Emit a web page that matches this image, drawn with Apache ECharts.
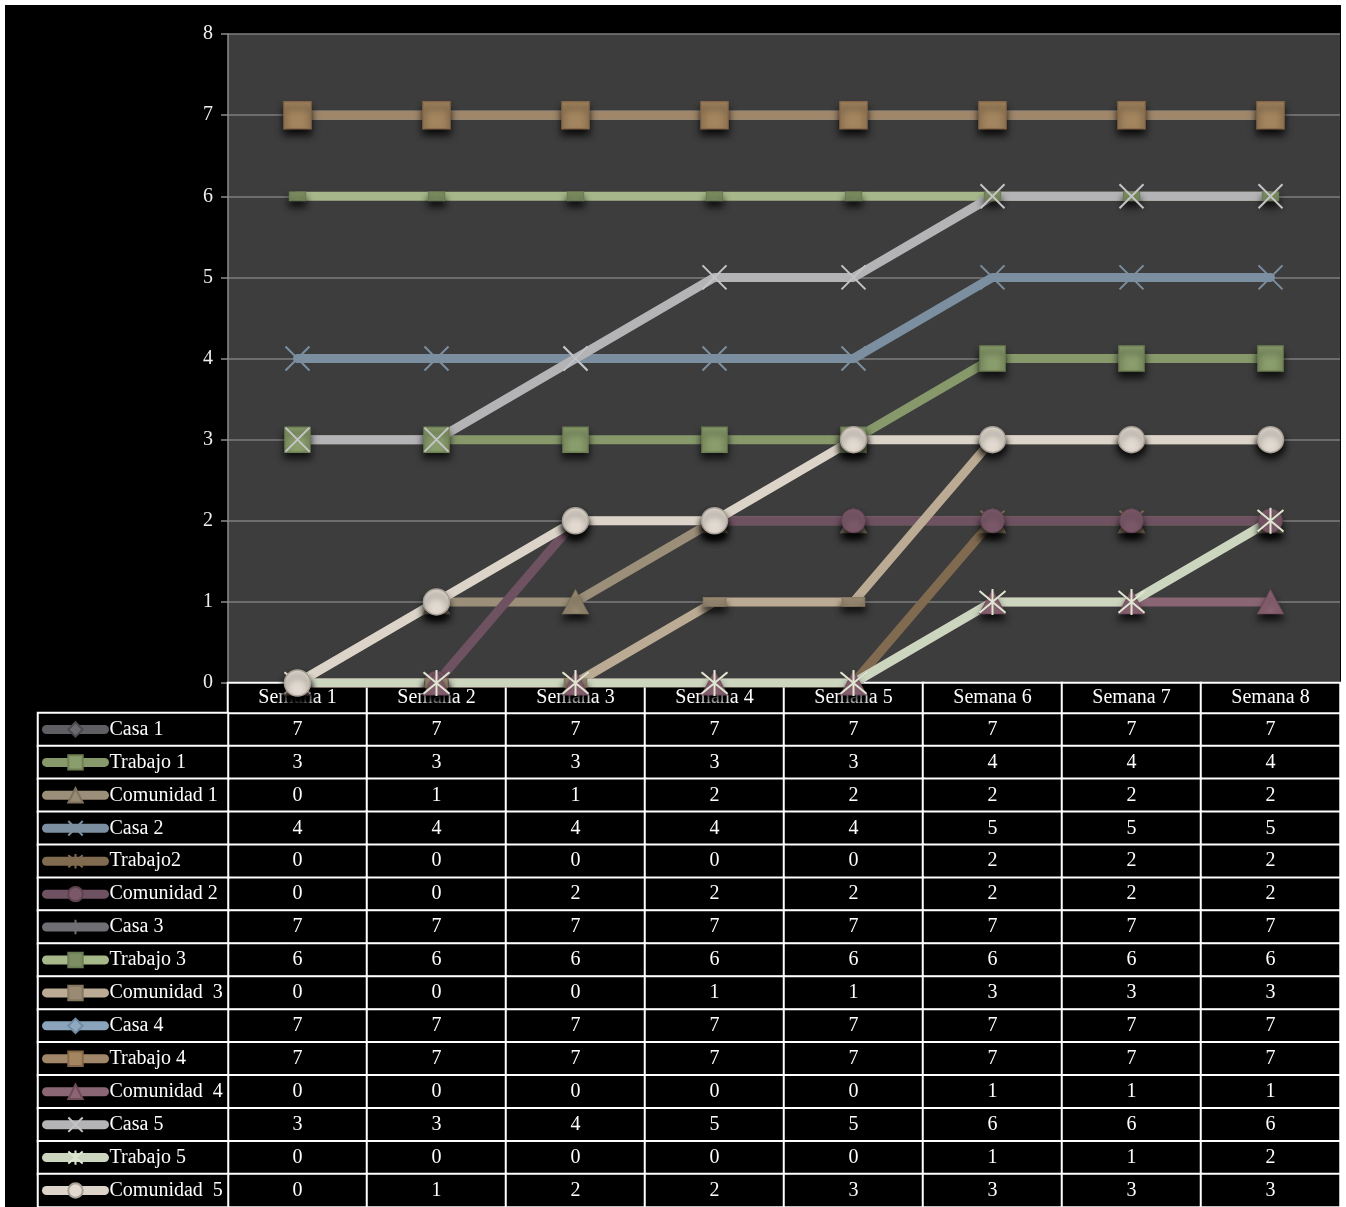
<!DOCTYPE html>
<html><head><meta charset="utf-8">
<script src="https://cdn.jsdelivr.net/npm/echarts@6/dist/echarts.min.js"></script>
<style>html,body{margin:0;padding:0;background:#fff;}#c{position:absolute;left:5px;top:5px;width:1336px;height:1202px;}</style>
</head><body><div id="c"></div>
<script>
// ---- data ----
const categories = ['Semana 1','Semana 2','Semana 3','Semana 4','Semana 5','Semana 6','Semana 7','Semana 8'];
const yTicks = [0,1,2,3,4,5,6,7,8];
const seriesNames = ['Casa 1','Trabajo 1','Comunidad 1','Casa 2','Trabajo2','Comunidad 2','Casa 3','Trabajo 3','Comunidad  3','Casa 4','Trabajo 4','Comunidad  4','Casa 5','Trabajo 5','Comunidad  5'];
const casa1       = [7,7,7,7,7,7,7,7];
const trabajo1    = [3,3,3,3,3,4,4,4];
const comunidad1  = [0,1,1,2,2,2,2,2];
const casa2       = [4,4,4,4,4,5,5,5];
const trabajo2    = [0,0,0,0,0,2,2,2];
const comunidad2  = [0,0,2,2,2,2,2,2];
const casa3       = [7,7,7,7,7,7,7,7];
const trabajo3    = [6,6,6,6,6,6,6,6];
const comunidad3  = [0,0,0,1,1,3,3,3];
const casa4       = [7,7,7,7,7,7,7,7];
const trabajo4    = [7,7,7,7,7,7,7,7];
const comunidad4  = [0,0,0,0,0,1,1,1];
const casa5       = [3,3,4,5,5,6,6,6];
const trabajo5    = [0,0,0,0,0,1,1,2];
const comunidad5  = [0,1,2,2,3,3,3,3];
const seriesValues = [casa1,trabajo1,comunidad1,casa2,trabajo2,comunidad2,casa3,trabajo3,comunidad3,casa4,trabajo4,comunidad4,casa5,trabajo5,comunidad5];

// ---- styles ----
const FONT = "'Liberation Serif', 'DejaVu Serif', serif";
const X_PATH = 'path://M0,0L24,24M24,0L0,24';
const AST_PATH = 'path://M2,2L22,22M22,2L2,22M12,0L12,24';
const PLUS_PATH = 'path://M12,0L12,24M0,12L24,12';
const shadow = {shadowColor:'rgba(0,0,0,0.75)', shadowBlur:7, shadowOffsetY:6};
const styles = [
  {line:'#5f5f63', symbol:'diamond', size:16, item:Object.assign({color:'#6a6a6e', borderColor:'#4a4a4e', borderWidth:1}, shadow)},
  {line:'#87996b', symbol:'rect', size:25, item:Object.assign({color:'#8a9d6c', borderColor:'#6f8055', borderWidth:1.5}, shadow)},
  {line:'#9c8f79', symbol:'triangle', size:[26,24], item:Object.assign({color:'#998b73', borderColor:'#7e725e', borderWidth:1}, shadow)},
  {line:'#7b8fa0', symbol:X_PATH, size:24, item:{color:'#7b8fa0', borderColor:'#7b8fa0', borderWidth:2}},
  {line:'#806a50', symbol:AST_PATH, size:24, item:{color:'#806a50', borderColor:'#806a50', borderWidth:2}},
  {line:'#6f5262', symbol:'circle', size:24, item:Object.assign({color:'#7a5868', borderColor:'#5e4250', borderWidth:1}, shadow)},
  {line:'#707074', symbol:PLUS_PATH, size:20, item:{color:'#707074', borderColor:'#707074', borderWidth:2}},
  {line:'#a6b78a', symbol:'rect', size:[16,9], item:Object.assign({color:'#7d8f62', borderColor:'#6c7c54', borderWidth:1}, shadow)},
  {line:'#bcab94', symbol:'rect', size:[22,9], item:Object.assign({color:'#9a8a74', borderColor:'#85775f', borderWidth:1}, shadow)},
  {line:'#8ba4bb', symbol:'diamond', size:16, item:Object.assign({color:'#8fa9c0', borderColor:'#6f8aa2', borderWidth:1}, shadow)},
  {line:'#a0876a', symbol:'rect', size:27, item:Object.assign({color:'#a3855f', borderColor:'#87694a', borderWidth:1.5}, shadow)},
  {line:'#8a6573', symbol:'triangle', size:[26,24], item:Object.assign({color:'#8d6474', borderColor:'#6f4c5a', borderWidth:1}, shadow)},
  {line:'#b4b4b7', symbol:X_PATH, size:24, item:{color:'#c4c4c6', borderColor:'#c4c4c6', borderWidth:2}},
  {line:'#ccd6bf', symbol:AST_PATH, size:26, item:{color:'#dfe6d2', borderColor:'#dfe6d2', borderWidth:2}},
  {line:'#dcd4c8', symbol:'circle', size:26, item:Object.assign({color:'#e2dad0', borderColor:'#a8a096', borderWidth:1.5}, shadow)}
];

const lineSeries = seriesNames.map((name, i) => ({
  name: name,
  type: 'line',
  xAxisIndex: 0, yAxisIndex: 0,
  z: 3,
  data: seriesValues[i],
  symbol: styles[i].symbol,
  symbolSize: styles[i].size,
  showSymbol: true,
  lineStyle: {color: styles[i].line, width: 9, cap: 'round', join: 'round'},
  itemStyle: styles[i].item,
  emphasis: {disabled: true},
  animation: false
}));

// table body (values)
const bodyData = [];
seriesValues.forEach((vals, r) => vals.forEach((v, c) => bodyData.push([c, r, v])));
const headerData = categories.map((c, i) => [i, 0, i]);
const keyData = seriesNames.map((n, r) => [0, r, 0]);

const cellStyle = {color:'#000', borderColor:'#ffffff', borderWidth:2};
const labelStyle = {show:true, color:'#ffffff', fontFamily:FONT, fontSize:20};

// one legend per table row so each key sits in its row
const ROW_TOP = 708, ROW_H = 494 / 15;
const legends = seriesNames.map((name, r) => ({
  data: [name],
  orient: 'horizontal',
  left: 37,
  top: ROW_TOP + r * ROW_H + ROW_H / 2 - 10,
  padding: 0,
  itemWidth: 58,
  itemHeight: 18,
  itemGap: 4,
  selectedMode: false,
  textStyle: {color:'#ffffff', fontSize:20, fontFamily:FONT, padding:[2,0,0,0]},
  lineStyle: {width: 9, cap: 'round'}
}));

const chart = echarts.init(document.getElementById('c'));
chart.setOption({
  backgroundColor: '#000000',
  animation: false,
  textStyle: {fontFamily: FONT},
  grid: [
    {left:223, right:1, top:29, height:649, backgroundColor:'#3d3d3d', show:true, borderWidth:0},
    {left:223, right:1, top:708, bottom:0},
    {left:223, right:1, top:678, height:30},
    {left:33, width:190, top:708, bottom:0}
  ],
  xAxis: [
    {gridIndex:0, type:'category', data:categories, boundaryGap:true, show:false},
    {gridIndex:1, type:'category', data:categories, show:false},
    {gridIndex:2, type:'category', data:categories, show:false},
    {gridIndex:3, type:'category', data:[''], show:false}
  ],
  yAxis: [
    {gridIndex:0, type:'value', min:0, max:8, interval:1,
      axisLine:{show:true, lineStyle:{color:'#8c8c8c', width:1.5}},
      axisTick:{show:true, length:7, lineStyle:{color:'#8c8c8c', width:1.5}},
      axisLabel:{color:'#eeeeee', fontSize:20, fontFamily:FONT, margin:15,
        formatter: v => yTicks.indexOf(v) >= 0 ? String(v) : ''},
      splitLine:{show:true, lineStyle:{color:'#7e7e7e', width:1.5}}},
    {gridIndex:1, type:'category', data:seriesNames, inverse:true, show:false},
    {gridIndex:2, type:'category', data:['h'], show:false},
    {gridIndex:3, type:'category', data:seriesNames, inverse:true, show:false}
  ],
  legend: legends,
  series: [
    {type:'heatmap', name:'tabla', xAxisIndex:1, yAxisIndex:1, z:1, data:bodyData,
      itemStyle:cellStyle, label:Object.assign({formatter: p => String(p.value[2])}, labelStyle),
      emphasis:{disabled:true}, silent:true},
    {type:'heatmap', name:'cabecera', xAxisIndex:2, yAxisIndex:2, z:1, data:headerData,
      itemStyle:cellStyle, label:Object.assign({formatter: p => categories[p.value[0]]}, labelStyle),
      emphasis:{disabled:true}, silent:true},
    {type:'heatmap', name:'claves', xAxisIndex:3, yAxisIndex:3, z:1, data:keyData,
      itemStyle:cellStyle, label:{show:false},
      emphasis:{disabled:true}, silent:true}
  ].concat(lineSeries)
});
</script></body></html>
